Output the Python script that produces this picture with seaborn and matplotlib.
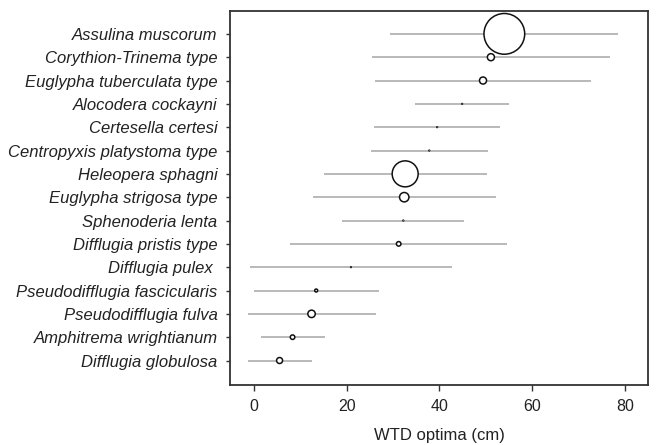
import pandas as pd
import matplotlib
matplotlib.use("Agg")
import matplotlib.pyplot as plt
import seaborn as sns

# Testate amoebae WTD optima and tolerances (cm)
taxa = ["Assulina muscorum", "Corythion-Trinema type", "Euglypha tuberculata type",
        "Alocodera cockayni", "Certesella certesi", "Centropyxis platystoma type",
        "Heleopera sphagni", "Euglypha strigosa type", "Sphenoderia lenta",
        "Difflugia pristis type", "Difflugia pulex ", "Pseudodifflugia fascicularis",
        "Pseudodifflugia fulva", "Amphitrema wrightianum", "Difflugia globulosa"]
optimum = [54.0, 51.1, 49.4, 44.9, 39.5, 37.8, 32.6, 32.4, 32.2, 31.2, 20.9, 13.4, 12.4, 8.3, 5.5]
tolerance = [24.6, 25.7, 23.3, 10.2, 13.6, 12.6, 17.6, 19.7, 13.2, 23.4, 21.8, 13.5, 13.8, 6.9, 6.9]
abundance = [30.0, 0.9, 0.9, 0.01, 0.01, 0.01, 12.2, 1.6, 0.01, 0.37, 0.01, 0.16, 1.0, 0.37, 0.65]

df = pd.DataFrame({"taxon": taxa, "opt": optimum, "tol": tolerance, "abund": abundance})
df["pos"] = range(len(df))

sns.set_style("white")
plt.rcParams["font.family"] = ["Liberation Sans", "DejaVu Sans"]

fig, ax = plt.subplots(figsize=(6.56, 4.45), dpi=100)
fig.subplots_adjust(left=0.3506, right=0.9878, bottom=0.1348, top=0.9753)

ax.hlines(df["pos"], df["opt"] - df["tol"], df["opt"] + df["tol"],
          color="#a6a6a6", linewidth=1.1, zorder=1)
sns.scatterplot(data=df, x="opt", y="pos", size="abund", sizes=(0, 860),
                size_norm=(0, 30), facecolor="white", edgecolor="#111111",
                linewidth=1.1, legend=False, ax=ax, zorder=2)

ax.set_yticks(df["pos"])
ax.set_yticklabels(taxa, fontstyle="italic", fontsize=12, color="#222222")
ax.set_ylim(len(taxa) - 1 + 1.05, -0.98)
ax.set_xlim(-5.2, 85)
ax.set_xticks([0, 20, 40, 60, 80])
ax.tick_params(axis="x", bottom=True, labelsize=11.5, labelcolor="#222222",
               color="#333333", length=4, width=1, pad=6)
ax.tick_params(axis="y", left=True, length=3, width=1, color="#333333", pad=6)
ax.set_xlabel("WTD optima (cm)", fontsize=12, color="#222222", labelpad=10)
ax.set_ylabel("")
for s in ax.spines.values():
    s.set_color("#333333")
    s.set_linewidth(1.3)

fig.savefig("out.png", dpi=100)
